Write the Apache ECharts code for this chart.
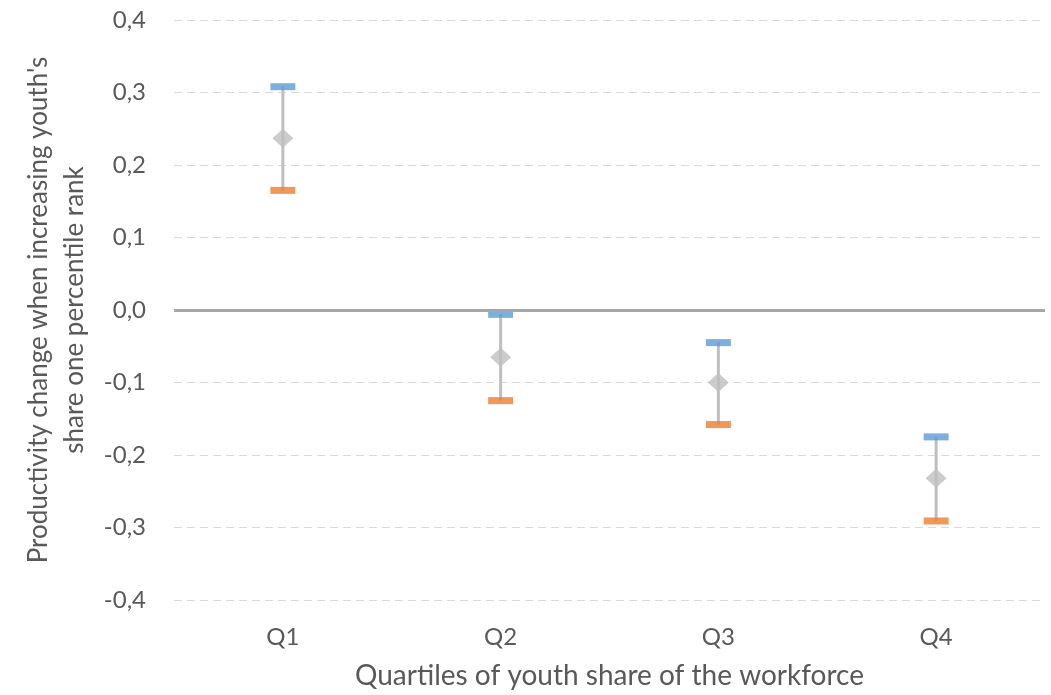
<!DOCTYPE html>
<html>
<head>
<meta charset="utf-8">
<script src="https://cdn.jsdelivr.net/npm/echarts@6/dist/echarts.min.js"></script>
<style>
  html, body { margin: 0; padding: 0; background: #fff; }
  #chart { width: 1051px; height: 695px; }
</style>
</head>
<body>
<div id="chart"></div>
<script>
// Quartile estimates: upper bound, point estimate, lower bound
const categories = ['Q1', 'Q2', 'Q3', 'Q4'];
const upper = [0.308, -0.006, -0.045, -0.175];
const estimate = [0.237, -0.065, -0.100, -0.232];
const lower = [0.165, -0.125, -0.158, -0.291];
const yTicks = [-0.4, -0.3, -0.2, -0.1, 0.0, 0.1, 0.2, 0.3, 0.4];

const FONT = 'Lato, "Open Sans", sans-serif';
const TEXT = '#595959';

const chart = echarts.init(document.getElementById('chart'));

const fmt = v => v.toFixed(1).replace('.', ',');

chart.setOption({
  animation: false,
  grid: { left: 174, right: 6, top: 20, bottom: 91 },
  xAxis: {
    type: 'category',
    data: categories,
    name: 'Quartiles of youth share of the workforce',
    nameLocation: 'middle',
    nameGap: 62,
    nameTextStyle: { fontFamily: FONT, fontSize: 28, color: TEXT },
    axisLine: { show: false },
    axisTick: { show: false },
    axisLabel: { fontFamily: FONT, fontSize: 24, color: TEXT, margin: 25 }
  },
  yAxis: {
    type: 'value',
    min: yTicks[0],
    max: yTicks[yTicks.length - 1],
    interval: 0.1,
    name: "Productivity change when increasing youth's\nshare one percentile rank",
    nameLocation: 'middle',
    nameRotate: 90,
    nameGap: 81,
    nameTextStyle: { fontFamily: FONT, fontSize: 26, color: TEXT, lineHeight: 36 },
    axisLine: { show: false },
    axisTick: { show: false },
    axisLabel: { fontFamily: FONT, fontSize: 24, color: TEXT, margin: 28, formatter: fmt },
    splitLine: { lineStyle: { color: '#d9d9d9', width: 1, type: [8, 5] } }
  },
  series: [
    {
      // whisker joining lower and upper bounds
      type: 'custom',
      z: 1,
      data: categories.map((c, i) => [i, lower[i], upper[i]]),
      renderItem: (params, api) => {
        const p1 = api.coord([api.value(0), api.value(1)]);
        const p2 = api.coord([api.value(0), api.value(2)]);
        return {
          type: 'line',
          shape: { x1: p1[0], y1: p1[1], x2: p2[0], y2: p2[1] },
          style: { stroke: '#bfbfbf', lineWidth: 3 }
        };
      },
      markLine: {
        silent: true,
        symbol: 'none',
        label: { show: false },
        lineStyle: { color: '#a6a6a6', width: 3, type: 'solid' },
        data: [{ yAxis: 0 }]
      }
    },
    {
      name: 'Upper',
      type: 'scatter',
      z: 3,
      symbol: 'rect',
      symbolSize: [25, 7],
      itemStyle: { color: '#5b9bd5' },
      data: upper
    },
    {
      name: 'Lower',
      type: 'scatter',
      z: 3,
      symbol: 'rect',
      symbolSize: [25, 7],
      itemStyle: { color: '#ed7d31' },
      data: lower
    },
    {
      name: 'Estimate',
      type: 'scatter',
      z: 4,
      symbol: 'diamond',
      symbolSize: [21, 19],
      itemStyle: { color: '#bfbfbf' },
      data: estimate
    }
  ]
});
</script>
</body>
</html>
